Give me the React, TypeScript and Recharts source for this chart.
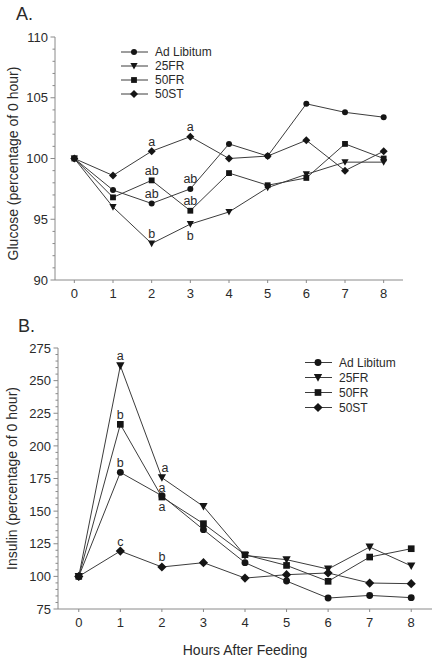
import React from 'react';
import { LineChart, Line, XAxis, YAxis, Legend, LabelList } from 'recharts';

const hours = [0, 1, 2, 3, 4, 5, 6, 7, 8];

// A. glucose, percentage of 0 hour
const glucoseAdLib = [100, 97.4, 96.3, 97.5, 101.2, 100.2, 104.5, 103.8, 103.4];
const glucose25FR = [100, 96.0, 93.0, 94.6, 95.6, 97.6, 98.7, 99.7, 99.7];
const glucose50FR = [100, 96.8, 98.2, 95.7, 98.8, 97.8, 98.4, 101.2, 100.0];
const glucose50ST = [100, 98.6, 100.6, 101.8, 100.0, 100.2, 101.5, 99.0, 100.6];
const glucoseLettersAdLib = ['', '', 'ab', 'ab', '', '', '', '', ''];
const glucoseLetters25FR = ['', '', 'b', 'b', '', '', '', '', ''];
const glucoseLetters50FR = ['', '', 'ab', 'ab', '', '', '', '', ''];
const glucoseLetters50ST = ['', '', 'a', 'a', '', '', '', '', ''];
const glucoseTicks = [90, 95, 100, 105, 110];

// B. insulin, percentage of 0 hour
const insulinAdLib = [100, 179.7, 161.8, 135.8, 110.5, 96.4, 83.4, 85.4, 83.7];
const insulin25FR = [100, 261.4, 175.6, 153.6, 116.0, 112.8, 105.6, 122.5, 108.0];
const insulin50FR = [100, 216.5, 160.8, 140.4, 116.6, 108.4, 96.2, 114.8, 121.2];
const insulin50ST = [100, 119.4, 107.2, 110.5, 98.7, 101.3, 102.6, 94.9, 94.4];
const insulinLettersAdLib = ['', 'b', 'a', '', '', '', '', '', ''];
const insulinLetters25FR = ['', 'a', 'a', '', '', '', '', '', ''];
const insulinLetters50FR = ['', 'b', 'a', '', '', '', '', '', ''];
const insulinLetters50ST = ['', 'c', 'b', '', '', '', '', '', ''];
const insulinTicks = [75, 100, 125, 150, 175, 200, 225, 250, 275];

const FONT = '"Liberation Sans", Arial, Helvetica, sans-serif';
const LINE = '#3c3c3c';
const MARK = '#151515';
const AXIS = '#8a8a8a';
const TEXT = '#2a2a2a';

type Shape = 'circle' | 'triangle' | 'square' | 'diamond';

const SERIES: { key: string; name: string; shape: Shape }[] = [
  { key: 'adLib', name: 'Ad Libitum', shape: 'circle' },
  { key: 'fr25', name: '25FR', shape: 'triangle' },
  { key: 'fr50', name: '50FR', shape: 'square' },
  { key: 'st50', name: '50ST', shape: 'diamond' },
];

const buildRows = (vals: number[][], letters: string[][]) =>
  hours.map((h, i) => {
    const row: any = { hour: h };
    SERIES.forEach((s, k) => {
      row[s.key] = vals[k][i];
      row[s.key + 'Txt'] = letters[k][i];
    });
    return row;
  });

const glucoseRows = buildRows(
  [glucoseAdLib, glucose25FR, glucose50FR, glucose50ST],
  [glucoseLettersAdLib, glucoseLetters25FR, glucoseLetters50FR, glucoseLetters50ST]
);
const insulinRows = buildRows(
  [insulinAdLib, insulin25FR, insulin50FR, insulin50ST],
  [insulinLettersAdLib, insulinLetters25FR, insulinLetters50FR, insulinLetters50ST]
);

function Marker({ cx, cy, shape, s }: { cx: number; cy: number; shape: Shape; s: number }) {
  if (cx == null || cy == null) return null;
  if (shape === 'circle') return <circle cx={cx} cy={cy} r={3 * s} fill={MARK} />;
  if (shape === 'triangle') {
    const w = 3.6 * s;
    return <polygon points={`${cx - w},${cy - 3 * s} ${cx + w},${cy - 3 * s} ${cx},${cy + 3.6 * s}`} fill={MARK} />;
  }
  if (shape === 'square') {
    const h = 2.9 * s;
    return <rect x={cx - h} y={cy - h} width={2 * h} height={2 * h} fill={MARK} />;
  }
  const d = 4 * s;
  return <polygon points={`${cx},${cy - d} ${cx + d},${cy} ${cx},${cy + d} ${cx - d},${cy}`} fill={MARK} />;
}

type Tweak = { below?: boolean; dx?: number };

const letterContent = (tweaks: Record<number, Tweak>) => (p: any) => {
  if (!p.value) return null;
  const vb = p.viewBox || {};
  const x = vb.x ?? p.x;
  const y = vb.y ?? p.y;
  const t = tweaks[p.index] || {};
  return (
    <text
      x={x + (t.dx || 0)}
      y={t.below ? y + 15.5 : y - 5.5}
      textAnchor="middle"
      fontSize={12.5}
      fontFamily={FONT}
      style={{ fill: TEXT }}
    >
      {p.value}
    </text>
  );
};

const rangeTicks = (lo: number, hi: number, step: number) => {
  const out: number[] = [];
  for (let v = lo; v <= hi + 1e-9; v += step) out.push(v);
  return out;
};

function LegendBox({ payload, rowH, s }: { payload?: any[]; rowH: number; s: number }) {
  const items = [...(payload || [])].sort(
    (a, b) => SERIES.findIndex((x) => x.key === a.dataKey) - SERIES.findIndex((x) => x.key === b.dataKey)
  );
  return (
    <div style={{ fontFamily: FONT, fontSize: 12, color: TEXT }}>
      {items.map((e) => {
        const ser = SERIES.find((x) => x.key === e.dataKey) || SERIES[0];
        return (
          <div key={ser.key} style={{ display: 'flex', alignItems: 'center', height: rowH }}>
            <svg width={34} height={rowH} style={{ display: 'block' }}>
              <line x1={0} x2={27} y1={rowH / 2} y2={rowH / 2} stroke={LINE} strokeWidth={1} />
              <Marker cx={13} cy={rowH / 2} shape={ser.shape} s={s} />
            </svg>
            <span style={{ whiteSpace: 'nowrap' }}>{ser.name}</span>
          </div>
        );
      })}
    </div>
  );
}

type PanelProps = {
  top: number;
  height: number;
  margin: { top: number; right: number; left: number; bottom: number };
  yWidth: number;
  xHeight: number;
  rows: any[];
  domain: [number, number];
  majorTicks: number[];
  minorStep: number;
  yLabel: string;
  yLabelOffset: number;
  yLabelDy: number;
  xLabel?: string;
  legend: { left: number; top: number; rowH: number };
  scale: number;
  tweaks: Record<string, Record<number, Tweak>>;
  title: string;
  titlePos: { left: number; top: number };
};

function Panel(pp: PanelProps) {
  const minor = rangeTicks(pp.domain[0], pp.domain[1], pp.minorStep);
  const renderYTick = (p: any) => {
    const v = p.payload.value;
    const isMajor = pp.majorTicks.some((m) => Math.abs(m - v) < 1e-6);
    return (
      <g key={`yt-${v}`}>
        <line x1={p.x} x2={p.x - (isMajor ? 4.5 : 2.5)} y1={p.y} y2={p.y} stroke={AXIS} strokeWidth={1} />
        {isMajor && (
          <text x={p.x - 7} y={p.y} dy="0.36em" textAnchor="end" fontSize={13} fill={TEXT} fontFamily={FONT}>
            {v}
          </text>
        )}
      </g>
    );
  };
  return (
    <div style={{ position: 'absolute', left: 0, top: pp.top, width: 437, height: pp.height }}>
      <div style={{ position: 'absolute', left: pp.titlePos.left, top: pp.titlePos.top, fontSize: 18, lineHeight: '18px', color: TEXT, fontFamily: FONT, zIndex: 2 }}>
        {pp.title}
      </div>
      <LineChart width={437} height={pp.height} data={pp.rows} margin={pp.margin} style={{ fontFamily: FONT }}>
        <XAxis
          dataKey="hour"
          type="number"
          domain={[-0.5, 8.5]}
          ticks={hours}
          interval={0}
          tickSize={3}
          tickMargin={6}
          height={pp.xHeight}
          tick={{ fontSize: 13, fill: TEXT }}
          tickLine={{ stroke: AXIS }}
          axisLine={{ stroke: AXIS }}
          label={pp.xLabel ? { value: pp.xLabel, position: 'insideBottom', offset: 8, fontSize: 14, fill: TEXT } : undefined}
        />
        <YAxis
          type="number"
          domain={pp.domain}
          ticks={minor}
          interval={0}
          width={pp.yWidth}
          tickSize={0}
          tickMargin={0}
          tickLine={false}
          axisLine={{ stroke: AXIS }}
          tick={renderYTick}
          label={{
            value: pp.yLabel,
            angle: -90,
            position: 'insideLeft',
            offset: pp.yLabelOffset,
            dy: pp.yLabelDy,
            fontSize: 14,
            fill: TEXT,
            style: { textAnchor: 'middle' },
          }}
        />
        <Legend
          layout="vertical"
          align="center"
          verticalAlign="middle"
          itemSorter={null as any}
          wrapperStyle={{ left: pp.legend.left, top: pp.legend.top, width: 130 }}
          content={(p: any) => <LegendBox payload={p.payload} rowH={pp.legend.rowH} s={pp.scale} />}
        />
        {SERIES.map((s) => (
          <Line
            key={s.key}
            dataKey={s.key}
            name={s.name}
            type="linear"
            stroke={LINE}
            strokeWidth={1}
            isAnimationActive={false}
            dot={(p: any) => <Marker key={`${s.key}-${p.index}`} cx={p.cx} cy={p.cy} shape={s.shape} s={pp.scale} />}
            activeDot={false}
          >
            <LabelList dataKey={s.key + 'Txt'} content={letterContent(pp.tweaks[s.key] || {})} />
          </Line>
        ))}
      </LineChart>
    </div>
  );
}

export default function App() {
  return (
    <div style={{ position: 'absolute', left: 0, top: 0, width: 437, height: 663, background: '#fff', fontFamily: FONT }}>
      <Panel
        top={0}
        height={300}
        margin={{ top: 37, right: 34, left: 0, bottom: 0 }}
        yWidth={55}
        xHeight={20}
        rows={glucoseRows}
        domain={[90, 110]}
        majorTicks={glucoseTicks}
        minorStep={1}
        yLabel="Glucose (percentage of 0 hour)"
        yLabelOffset={13}
        yLabelDy={5}
        legend={{ left: 121, top: 45, rowH: 14 }}
        scale={1}
        tweaks={{ fr25: { 3: { below: true } } }}
        title="A."
        titlePos={{ left: 16, top: 5 }}
      />
      <Panel
        top={300}
        height={363}
        margin={{ top: 48, right: 5, left: 0, bottom: 0 }}
        yWidth={58}
        xHeight={54}
        rows={insulinRows}
        domain={[75, 275]}
        majorTicks={insulinTicks}
        minorStep={5}
        yLabel="Insulin (percentage of 0 hour)"
        yLabelOffset={12}
        yLabelDy={0}
        xLabel="Hours After Feeding"
        legend={{ left: 305, top: 55, rowH: 15 }}
        scale={1.15}
        tweaks={{ adLib: { 2: { below: true } }, fr25: { 2: { dx: 3 } } }}
        title="B."
        titlePos={{ left: 18, top: 17 }}
      />
    </div>
  );
}
